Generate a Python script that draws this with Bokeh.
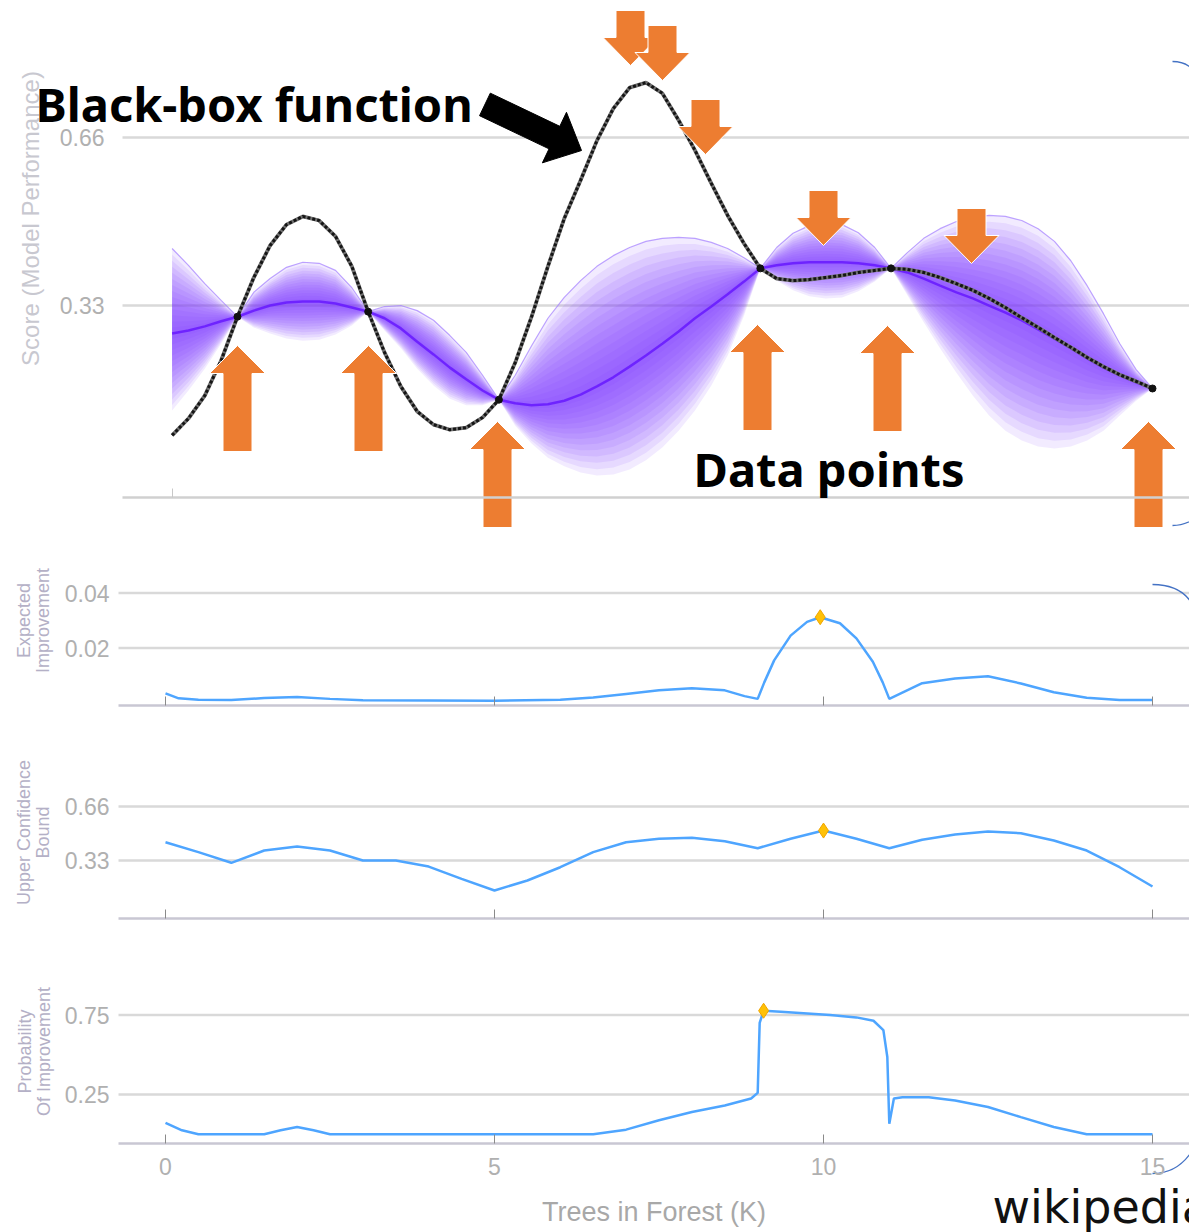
import math
from bokeh.plotting import figure
from bokeh.layouts import column
from bokeh.models import Range1d, FixedTicker, Label, LinearAxis
from bokeh.embed import file_html
from bokeh.resources import INLINE

# ---------------- data ----------------
X_GRID = [k / 4 for k in range(61)]  # 0 .. 15 step 0.25 (Trees in Forest, K)

BLACKBOX = [0.075, 0.108, 0.153, 0.222, 0.308, 0.385, 0.448, 0.489, 0.505, 0.497, 0.466, 0.407, 0.318,
            0.238, 0.171, 0.122, 0.096, 0.086, 0.090, 0.110, 0.145, 0.218, 0.308, 0.407, 0.501,
            0.576, 0.654, 0.717, 0.758, 0.768, 0.747, 0.694, 0.635, 0.570, 0.507, 0.452, 0.403,
            0.383, 0.379, 0.381, 0.385, 0.389, 0.395, 0.399, 0.403, 0.401, 0.395, 0.385, 0.373,
            0.360, 0.344, 0.326, 0.306, 0.287, 0.267, 0.248, 0.228, 0.210, 0.194, 0.181, 0.167]

GP_MEAN = [0.275, 0.281, 0.289, 0.299, 0.308, 0.320, 0.330, 0.336, 0.338, 0.338, 0.334, 0.326, 0.318,
           0.305, 0.285, 0.259, 0.234, 0.208, 0.185, 0.163, 0.145, 0.138, 0.134, 0.136, 0.143,
           0.155, 0.171, 0.189, 0.210, 0.232, 0.255, 0.279, 0.305, 0.328, 0.352, 0.377, 0.403,
           0.409, 0.413, 0.415, 0.415, 0.415, 0.413, 0.409, 0.403, 0.395, 0.383, 0.369, 0.356,
           0.344, 0.330, 0.316, 0.301, 0.283, 0.265, 0.246, 0.226, 0.208, 0.193, 0.179, 0.167]

GP_UPPER = [0.442, 0.409, 0.373, 0.340, 0.308, 0.356, 0.383, 0.405, 0.415, 0.413, 0.399, 0.365, 0.318,
            0.328, 0.330, 0.320, 0.301, 0.271, 0.238, 0.193, 0.145, 0.193, 0.251, 0.305, 0.346,
            0.379, 0.407, 0.428, 0.444, 0.456, 0.462, 0.464, 0.462, 0.454, 0.442, 0.424, 0.403,
            0.444, 0.472, 0.487, 0.493, 0.489, 0.473, 0.444, 0.403, 0.434, 0.462, 0.481, 0.495,
            0.503, 0.507, 0.505, 0.497, 0.481, 0.456, 0.418, 0.369, 0.314, 0.255, 0.204, 0.167]

GP_LOWER = [0.124, 0.163, 0.206, 0.255, 0.308, 0.287, 0.275, 0.265, 0.261, 0.263, 0.273, 0.291, 0.318,
            0.281, 0.246, 0.206, 0.173, 0.147, 0.134, 0.134, 0.145, 0.094, 0.059, 0.031, 0.014,
            0.002, -0.004, -0.002, 0.008, 0.026, 0.051, 0.084, 0.124, 0.173, 0.232, 0.310, 0.403,
            0.379, 0.360, 0.348, 0.344, 0.346, 0.358, 0.377, 0.403, 0.350, 0.297, 0.246, 0.198,
            0.153, 0.114, 0.084, 0.065, 0.053, 0.049, 0.053, 0.065, 0.084, 0.114, 0.143, 0.167]

OBS_X = [1, 3, 5, 9, 11, 15]
OBS_Y = [0.308, 0.318, 0.145, 0.403, 0.403, 0.167]

EI_X = [0, 0.2, 0.5, 1, 1.5, 2, 2.5, 3, 4, 5, 6, 6.5, 7, 7.5, 8, 8.5, 8.8, 9.0, 9.1, 9.25, 9.5, 9.75,
        9.95, 10.25, 10.5, 10.75, 10.9, 11.0, 11.5, 12, 12.5, 13, 13.5, 14, 14.5, 15]
EI_Y = [0.0035, 0.0017, 0.0012, 0.0011, 0.0018, 0.0022, 0.0015, 0.0010, 0.0009, 0.0008, 0.0012,
        0.0020, 0.0033, 0.0046, 0.0054, 0.0046, 0.0025, 0.0015, 0.0075, 0.0155, 0.0245, 0.0295,
        0.0312, 0.0290, 0.0235, 0.0150, 0.0075, 0.0015, 0.0072, 0.0089, 0.0097, 0.0071, 0.0039,
        0.0019, 0.0011, 0.0011]

UCB_X = [0, 0.5, 1, 1.5, 2, 2.5, 3, 3.5, 4, 4.5, 5, 5.5, 6, 6.5, 7, 7.5, 8, 8.5, 9, 9.5, 10, 10.5,
         11, 11.5, 12, 12.5, 13, 13.5, 14, 14.5, 15]
UCB_Y = [0.442, 0.381, 0.316, 0.391, 0.416, 0.391, 0.330, 0.330, 0.293, 0.218, 0.147, 0.208, 0.289,
         0.381, 0.442, 0.463, 0.469, 0.448, 0.405, 0.463, 0.513, 0.463, 0.405, 0.457, 0.489, 0.507,
         0.497, 0.452, 0.391, 0.289, 0.171]

PI_X = [0, 0.25, 0.5, 1, 1.5, 1.75, 2, 2.25, 2.5, 3, 4, 5, 6, 6.5, 7, 7.5, 8, 8.5, 8.9, 9.0, 9.03,
        9.09, 9.35, 10.1, 10.5, 10.76, 10.91, 10.97, 11.0, 11.07, 11.2, 11.6, 12, 12.5, 13, 13.5,
        14, 14.5, 15]
PI_Y = [0.071, 0.025, 0.0, 0.0, 0.0, 0.025, 0.046, 0.025, 0.0, 0.0, 0.0, 0.0, 0.0, 0.0, 0.029, 0.088,
        0.140, 0.181, 0.225, 0.260, 0.700, 0.777, 0.771, 0.750, 0.735, 0.714, 0.655, 0.486, 0.066,
        0.225, 0.233, 0.233, 0.212, 0.171, 0.108, 0.046, 0.0, 0.0, 0.0]

TOP_TICKS = [0.33, 0.66]
EI_TICKS = [0.02, 0.04]
UCB_TICKS = [0.33, 0.66]
PI_TICKS = [0.25, 0.75]
X_TICKS = [0, 5, 10, 15]

# ---------------- layout constants (page pixels) ----------------
W = 1189
FONT = "Liberation Sans"
GRID_C = "#d9d9d9"
TICK_C = "#b0b0b0"
AXIS_C = "#c9c7d3"
LINE_BLUE = "#4ea5ff"
ORANGE = "#ED7D31"
ARC_C = "#4472C4"
BASE_FIX = 19  # label baseline correction (px)


def tx(px): return (px - 171.6) / 65.36
def ty(py): return (473.0 - py) / 509.0
def lx(px): return (px - 165.0) / 65.8
def ey(py): return (702.5 - py) / 2750.0
def uy(py): return (914.0 - py) / 163.6
def piy(py): return (1133.75 - py) / 159.0


def make_fig(height, xr, yr):
    p = figure(width=W, height=height, x_range=xr, y_range=yr, output_backend="svg",
               toolbar_location=None, x_axis_location=None, y_axis_location=None,
               min_border_left=0, min_border_right=0, min_border_top=0, min_border_bottom=0)
    p.xgrid.grid_line_color = None
    p.ygrid.grid_line_color = None
    p.outline_line_color = None
    return p


def y_axis(p, ticks, x_fixed, x_end, standoff):
    n = len(ticks)
    p.segment(x0=[x_fixed] * n, y0=ticks, x1=[x_end] * n, y1=ticks, line_color=GRID_C, line_width=2.5)
    ax = LinearAxis(ticker=FixedTicker(ticks=ticks), fixed_location=x_fixed, axis_line_color=None,
                    major_tick_line_color=None, minor_tick_line_color=None, major_label_text_font=FONT,
                    major_label_text_font_size="23px", major_label_text_color=TICK_C,
                    major_label_standoff=standoff)
    p.add_layout(ax, "left")


def x_axis(p, y_fixed, x0, x1, ticks, labels):
    ax = LinearAxis(ticker=FixedTicker(ticks=ticks), fixed_location=y_fixed, bounds=(x0, x1),
                    axis_line_color=AXIS_C, axis_line_width=2.5, major_tick_in=9, major_tick_out=0,
                    major_tick_line_color="#8a8a8a", minor_tick_line_color=None,
                    major_label_text_font=FONT, major_label_text_font_size="23px",
                    major_label_text_color=TICK_C if labels else None, major_label_standoff=14)
    p.add_layout(ax, "below")
    return ax


def vlabel(p, x, y, txt, size, color):
    p.add_layout(Label(x=x, y=y, text=txt, angle=math.pi / 2, text_align="center",
                       text_baseline="middle", text_font=FONT, text_font_size=size, text_color=color))


def arcs(p, fx, fy, specs):
    p.bezier(x0=[fx(s[0][0]) for s in specs], y0=[fy(s[0][1]) for s in specs],
             x1=[fx(s[1][0]) for s in specs], y1=[fy(s[1][1]) for s in specs],
             cx0=[fx(s[2][0]) for s in specs], cy0=[fy(s[2][1]) for s in specs],
             cx1=[fx(s[3][0]) for s in specs], cy1=[fy(s[3][1]) for s in specs],
             line_color=ARC_C, line_width=1.3)


# ---------------- top panel ----------------
top = make_fig(545, Range1d(tx(0), tx(W)), Range1d(ty(545), ty(0)))
y_axis(top, TOP_TICKS, tx(122), tx(W), 12)
ax_top = x_axis(top, ty(497), tx(122), tx(W), [0], False)
ax_top.axis_line_color = "#d0d0d0"
ax_top.major_tick_line_color = "#c8c8c8"

NLAY = 14
for k in range(NLAY, 0, -1):
    f = k / NLAY
    up = [m + f * (u - m) for m, u in zip(GP_MEAN, GP_UPPER)]
    lo = [m - f * (m - l) for m, l in zip(GP_MEAN, GP_LOWER)]
    top.varea(x=X_GRID, y1=lo, y2=up, fill_color="#7b36ff", fill_alpha=0.1)
top.line(X_GRID, GP_UPPER, line_color="#a27dff", line_width=1.2, line_alpha=0.7)
top.line(X_GRID, GP_MEAN, line_color="#6414ff", line_width=2.5, line_alpha=0.8)
top.line(X_GRID, BLACKBOX, line_color="#707070", line_width=3.8)
top.line(X_GRID, BLACKBOX, line_color="#151515", line_width=3.0, line_dash="3 2")
top.scatter(OBS_X, OBS_Y, size=7, color="#111111")


def arrow_xy(tip, ang_deg, length, shaft, head_w, head_len):
    a = math.radians(ang_deg)
    ux, uyv = math.cos(a), math.sin(a)
    nx, ny = -uyv, ux
    pts = [(0, 0),
           (-head_len * ux + head_w / 2 * nx, -head_len * uyv + head_w / 2 * ny),
           (-head_len * ux + shaft / 2 * nx, -head_len * uyv + shaft / 2 * ny),
           (-length * ux + shaft / 2 * nx, -length * uyv + shaft / 2 * ny),
           (-length * ux - shaft / 2 * nx, -length * uyv - shaft / 2 * ny),
           (-head_len * ux - shaft / 2 * nx, -head_len * uyv - shaft / 2 * ny),
           (-head_len * ux - head_w / 2 * nx, -head_len * uyv - head_w / 2 * ny)]
    return [tx(tip[0] + dx) for dx, dy in pts], [ty(tip[1] + dy) for dx, dy in pts]


# annotation arrows: tip position (page px)
UP_TIPS = [(237, 345), (368, 345), (497, 421), (757, 324), (887, 325), (1148, 421)]
DOWN_TIPS = [(630, 65), (662, 80), (705, 154), (823, 245), (971, 263)]
axs, ays = [], []
for t in UP_TIPS:
    xs, ys = arrow_xy(t, -90, 106, 29, 56, 28)
    axs.append(xs); ays.append(ys)
for t in DOWN_TIPS:
    xs, ys = arrow_xy(t, 90, 55, 29, 55, 28)
    axs.append(xs); ays.append(ys)
top.patches(axs, ays, fill_color=ORANGE, line_color="white", line_width=1)
bxs, bys = arrow_xy((581, 150), 25.5, 107, 25, 56, 30)
top.patch(bxs, bys, fill_color="black", line_color="black")

vlabel(top, tx(30), ty(218), "Score (Model Performance)", "24px", "#c8c8d0")
top.add_layout(Label(x=tx(35), y=ty(122 - BASE_FIX), text="Black-box function", text_align="left",
                     text_baseline="alphabetic", text_font="Noto Sans", text_font_style="bold",
                     text_font_size="47px", text_color="black"))
top.add_layout(Label(x=tx(693), y=ty(487 - BASE_FIX), text="Data points", text_align="left",
                     text_baseline="alphabetic", text_font="Noto Sans", text_font_style="bold",
                     text_font_size="47px", text_color="black"))
arcs(top, tx, ty, [((1172, 61), (1193, 70), (1182, 61), (1188, 64)),
                   ((1172, 525), (1193, 519), (1182, 525), (1188, 522))])

# ---------------- lower panels ----------------
XR = Range1d(lx(0), lx(W))
YL_SIZE = "18px"
YL_COLOR = "#b4b0c6"


def argmax_pt(xv, yv):
    i = max(range(len(yv)), key=lambda j: yv[j])
    return [xv[i]], [yv[i]]


def panel(p, fy, ticks, axis_py, xs, ys):
    y_axis(p, ticks, lx(118), lx(W), 3)
    x_axis(p, fy(axis_py), lx(118), lx(W), X_TICKS, False)
    p.line(xs, ys, line_color=LINE_BLUE, line_width=2.5)
    mx, my = argmax_pt(xs, ys)
    p.scatter(mx, my, marker="diamond", size=15, fill_color="#FFC107", line_color="#F0A500")


ei = make_fig(195, XR, Range1d(ey(740), ey(545)))
panel(ei, ey, EI_TICKS, 705, EI_X, EI_Y)
vlabel(ei, lx(23), ey(620), "Expected", YL_SIZE, YL_COLOR)
vlabel(ei, lx(42), ey(620), "Improvement", YL_SIZE, YL_COLOR)
arcs(ei, lx, ey, [((1152, 584), (1193, 606), (1172, 584), (1186, 592))])

ucb = make_fig(210, XR, Range1d(uy(950), uy(740)))
panel(ucb, uy, UCB_TICKS, 918, UCB_X, UCB_Y)
vlabel(ucb, lx(23), uy(832), "Upper Confidence", YL_SIZE, YL_COLOR)
vlabel(ucb, lx(42), uy(832), "Bound", YL_SIZE, YL_COLOR)

pi = make_fig(282, XR, Range1d(piy(1232), piy(950)))
y_axis(pi, PI_TICKS, lx(118), lx(W), 3)
pax = x_axis(pi, piy(1143), lx(118), lx(W), X_TICKS, True)
pax.axis_label = "Trees in Forest (K)"
pax.axis_label_text_font = FONT
pax.axis_label_text_font_style = "normal"
pax.axis_label_text_font_size = "27px"
pax.axis_label_text_color = "#a8a8a8"
pax.axis_label_standoff = 19
pi.line(PI_X, PI_Y, line_color=LINE_BLUE, line_width=2.5)
mx, my = argmax_pt(PI_X, PI_Y)
pi.scatter(mx, my, marker="diamond", size=15, fill_color="#FFC107", line_color="#F0A500")
vlabel(pi, lx(24), piy(1051), "Probability", YL_SIZE, YL_COLOR)
vlabel(pi, lx(43), piy(1051), "Of Improvement", YL_SIZE, YL_COLOR)
pi.add_layout(Label(x=lx(992), y=piy(1225 - BASE_FIX), text="wikipedia", text_align="left",
                    text_baseline="alphabetic", text_font="DejaVu Sans", text_font_size="46px",
                    text_color="#111111"))
arcs(pi, lx, piy, [((1152, 1173), (1193, 1148), (1170, 1173), (1183, 1165))])

layout = column(top, ei, ucb, pi, spacing=0)
open("out.html", "w").write(file_html(layout, INLINE))
